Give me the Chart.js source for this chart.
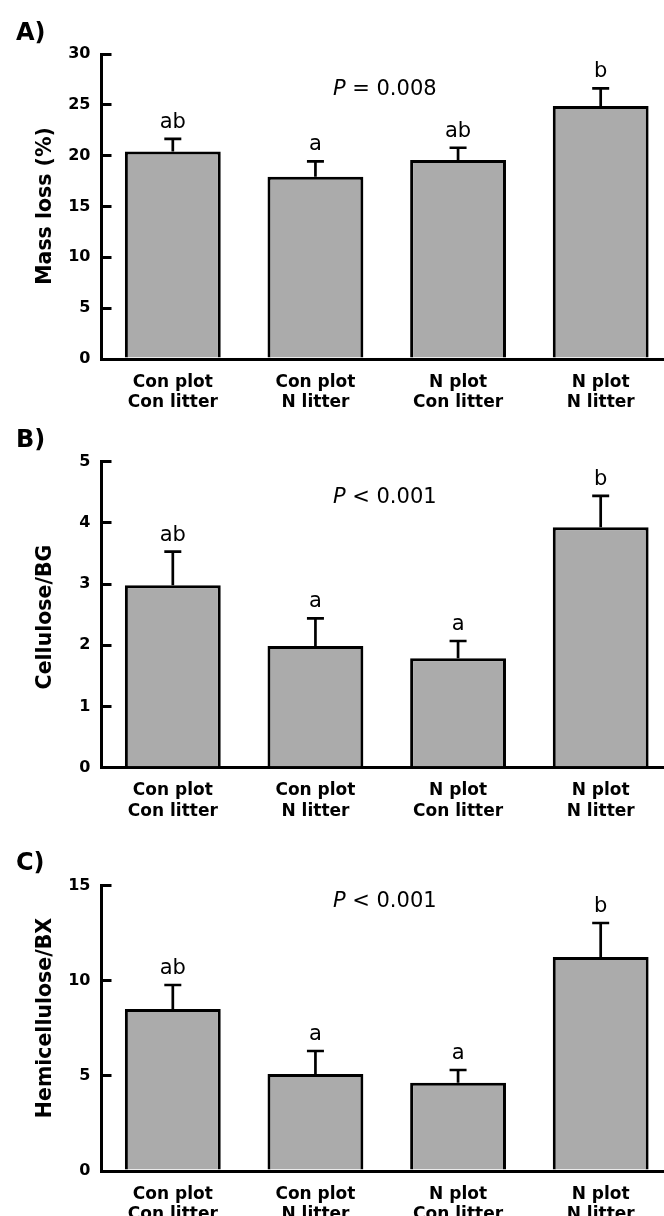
<!DOCTYPE html>
<html>
<head>
<meta charset="utf-8">
<script src="https://cdn.jsdelivr.net/npm/chart.js@4.4.1/dist/chart.umd.min.js"></script>
<style>
  html, body { margin: 0; padding: 0; background: #fff; overflow: hidden; width: 664px; height: 1216px; }
  .panel { position: absolute; left: 0; width: 700px; }
  canvas { display: block; }
</style>
</head>
<body>
<div class="panel" style="top:0px;height:425px"><canvas id="cA" width="700" height="425"></canvas></div>
<div class="panel" style="top:420px;height:420px"><canvas id="cB" width="700" height="420"></canvas></div>
<div class="panel" style="top:835px;height:381px"><canvas id="cC" width="700" height="381"></canvas></div>
<script>
// ---------- data ----------
const categories = [
  ['Con plot', 'Con litter'],
  ['Con plot', 'N litter'],
  ['N plot', 'Con litter'],
  ['N plot', 'N litter']
];

const massLoss        = [20.4, 17.93, 19.57, 24.88];
const massLossSE      = [1.25, 1.51, 1.21, 1.74];
const massLossLetters = ['ab', 'a', 'ab', 'b'];
const massLossP       = ' = 0.008';

const celluloseBG        = [2.98, 1.99, 1.79, 3.93];
const celluloseBGSE      = [0.55, 0.45, 0.28, 0.51];
const celluloseBGLetters = ['ab', 'a', 'a', 'b'];
const celluloseBGP       = ' < 0.001';

const hemiBX        = [8.52, 5.10, 4.64, 11.25];
const hemiBXSE      = [1.26, 1.21, 0.67, 1.79];
const hemiBXLetters = ['ab', 'a', 'a', 'b'];
const hemiBXP       = ' < 0.001';

const yMaxA = 30, yStepA = 5;
const yMaxB = 5,  yStepB = 1;
const yMaxC = 15, yStepC = 5;

// ---------- styling / layout ----------
const FAM = '"DejaVu Sans", "Liberation Sans", Arial, sans-serif';
Chart.defaults.font.family = FAM;
Chart.defaults.color = '#000';

const panels = [
  { id: 'cA', values: massLoss, se: massLossSE, letters: massLossLetters, pRest: massLossP,
    yMax: yMaxA, step: yStepA, title: 'Mass loss (%)', panel: 'A)',
    padTop: 54, xAxisH: 66, pY: 26.0, titleCY: 206, panelBase: 40 },
  { id: 'cB', values: celluloseBG, se: celluloseBGSE, letters: celluloseBGLetters, pRest: celluloseBGP,
    yMax: yMaxB, step: yStepB, title: 'Cellulose/BG', panel: 'B)',
    padTop: 41.7, xAxisH: 72.3, pY: 4.32, titleCY: 197, panelBase: 26.7 },
  { id: 'cC', values: hemiBX, se: hemiBXSE, letters: hemiBXLetters, pRest: hemiBXP,
    yMax: yMaxC, step: yStepC, title: 'Hemicellulose/BX', panel: 'C)',
    padTop: 50.7, xAxisH: 45, pY: 13.9, titleCY: 183, panelBase: 35 }
];

function annotPlugin(cfg) {
  return {
    id: 'annot_' + cfg.id,
    afterDatasetsDraw(chart) {
      const ctx = chart.ctx;
      const ys = chart.scales.y;
      const meta = chart.getDatasetMeta(0);
      ctx.save();
      ctx.strokeStyle = '#000';
      ctx.fillStyle = '#000';
      ctx.lineWidth = 2.7;
      ctx.lineCap = 'butt';
      meta.data.forEach((bar, i) => {
        const v = cfg.values[i], e = cfg.se[i];
        const x = bar.x;
        const yTop = ys.getPixelForValue(v);
        const yErr = ys.getPixelForValue(v + e);
        ctx.beginPath();
        ctx.moveTo(x, yTop);
        ctx.lineTo(x, yErr);
        ctx.moveTo(x - 8.5, yErr);
        ctx.lineTo(x + 8.5, yErr);
        ctx.stroke();
        ctx.font = '21px ' + FAM;
        ctx.textAlign = 'center';
        ctx.textBaseline = 'alphabetic';
        ctx.fillText(cfg.letters[i], x, yErr - 11);
      });
      // P value text
      const italic = 'italic 21px ' + FAM;
      const reg = '21px ' + FAM;
      ctx.font = italic;
      const w1 = ctx.measureText('P').width;
      ctx.font = reg;
      const w2 = ctx.measureText(cfg.pRest).width;
      const cx = (chart.chartArea.left + chart.chartArea.right) / 2 - 2;
      const x0 = cx - (w1 + w2) / 2;
      const py = ys.getPixelForValue(cfg.pY);
      ctx.textAlign = 'left';
      ctx.textBaseline = 'alphabetic';
      ctx.font = italic;
      ctx.fillText('P', x0, py);
      ctx.font = reg;
      ctx.fillText(cfg.pRest, x0 + w1, py);
      ctx.restore();
    },
    afterDraw(chart) {
      const ctx = chart.ctx;
      ctx.save();
      ctx.fillStyle = '#000';
      // panel letter
      ctx.font = 'bold 24px ' + FAM;
      ctx.textAlign = 'left';
      ctx.textBaseline = 'alphabetic';
      ctx.fillText(cfg.panel, 16, cfg.panelBase);
      // y-axis title
      ctx.translate(43, cfg.titleCY);
      ctx.rotate(-Math.PI / 2);
      ctx.font = 'bold 20.5px ' + FAM;
      ctx.textAlign = 'center';
      ctx.fillText(cfg.title, 0, 7.5);
      ctx.restore();
    }
  };
}

panels.forEach(cfg => {
  new Chart(document.getElementById(cfg.id), {
    type: 'bar',
    data: {
      labels: categories,
      datasets: [{
        data: cfg.values,
        backgroundColor: '#ababab',
        borderColor: '#000',
        borderWidth: 3,
        borderSkipped: 'start',
        barPercentage: 0.672,
        categoryPercentage: 1
      }]
    },
    options: {
      responsive: false,
      animation: false,
      layout: { padding: { top: cfg.padTop, left: 0, right: 28, bottom: 0 } },
      plugins: { legend: { display: false }, tooltip: { enabled: false }, title: { display: false } },
      scales: {
        x: {
          type: 'category',
          offset: true,
          grid: { display: true, drawOnChartArea: false, drawTicks: false },
          border: { display: true, color: '#000', width: 3 },
          ticks: {
            color: '#000',
            font: { family: FAM, size: 17, weight: 'bold', lineHeight: 1.2 },
            padding: 13,
            maxRotation: 0,
            minRotation: 0,
            autoSkip: false
          },
          afterFit(s) { s.height = cfg.xAxisH; }
        },
        y: {
          min: 0,
          max: cfg.yMax,
          grid: { display: true, drawOnChartArea: false, drawTicks: true, tickLength: -10, color: '#000', lineWidth: 3 },
          border: { display: true, color: '#000', width: 3 },
          ticks: {
            stepSize: cfg.step,
            color: '#000',
            font: { family: FAM, size: 16, weight: 'bold' },
            padding: 21
          },
          afterFit(s) { s.width = 101.5; }
        }
      }
    },
    plugins: [annotPlugin(cfg)]
  });
});
</script>
</body>
</html>
